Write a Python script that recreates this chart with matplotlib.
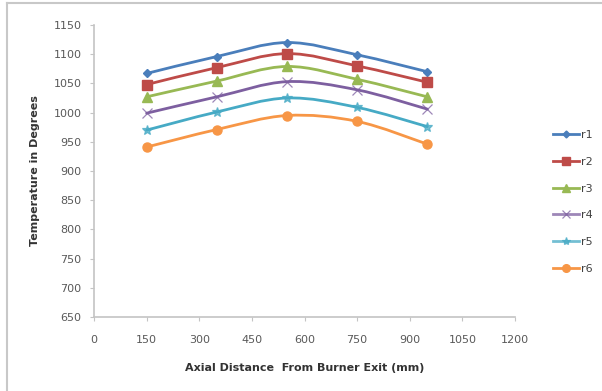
import matplotlib.pyplot as plt
from matplotlib.path import Path
from matplotlib.patches import PathPatch
from matplotlib.lines import Line2D
import numpy as np

# axial positions (mm) and temperatures for each radial station
distance = [150, 350, 550, 750, 950]
r1 = [1067, 1096, 1120, 1099, 1070]
r2 = [1048, 1077, 1101, 1080, 1052]
r3 = [1027, 1054, 1079, 1057, 1027]
r4 = [999, 1027, 1053, 1039, 1006]
r5 = [970, 1001, 1025, 1009, 976]
r6 = [941, 971, 995, 985, 946]

names = ['r1', 'r2', 'r3', 'r4', 'r5', 'r6']
series = [r1, r2, r3, r4, r5, r6]
colors = ['#4a7ebb', '#be4b48', '#98b954', '#7d5fa0', '#46aac5', '#f79646']
markers = ['D', 's', '^', 'x', '*', 'o']
msizes = [4.5, 6.5, 6.5, 6.5, 7, 6.5]


def smooth_path(x, y):
    # Catmull-Rom style bezier through the points (like Excel's smoothed line)
    pts = np.column_stack([x, y]).astype(float)
    verts = [pts[0]]
    codes = [Path.MOVETO]
    n = len(pts)
    for i in range(n - 1):
        p0 = pts[i - 1] if i > 0 else pts[i]
        p1 = pts[i]
        p2 = pts[i + 1]
        p3 = pts[i + 2] if i + 2 < n else pts[i + 1]
        c1 = p1 + (p2 - p0) / 6.0
        c2 = p2 - (p3 - p1) / 6.0
        verts += [c1, c2, p2]
        codes += [Path.CURVE4] * 3
    return Path(verts, codes)


def mstyle(m):
    return dict(mew=0.9, alpha=0.75) if m in ('x', '*') else dict(mew=1)


fig = plt.figure(figsize=(6.02, 3.91), dpi=100)
ax = fig.add_axes([94 / 602, 1 - 317 / 391, (515 - 94) / 602, (317 - 25) / 391])

for name, vals, c, m, ms in zip(names, series, colors, markers, msizes):
    ax.add_patch(PathPatch(smooth_path(distance, vals), fill=False,
                           edgecolor=c, lw=2.0, capstyle='round'))
    ax.plot(distance, vals, ls='none', marker=m, color=c, ms=ms, **mstyle(m))

ax.set_xlim(0, 1200)
ax.set_ylim(650, 1150)
ax.set_xticks(np.arange(0, 1201, 150))
ax.set_yticks(np.arange(650, 1151, 50))

for s in ['top', 'right']:
    ax.spines[s].set_visible(False)
for s in ['left', 'bottom']:
    ax.spines[s].set_color('#c4c4c4')
    ax.spines[s].set_linewidth(1.2)
ax.tick_params(colors='#c4c4c4', labelcolor='#595959', labelsize=8,
               length=3, direction='out')
ax.tick_params(axis='x', pad=10)
ax.tick_params(axis='y', pad=6)

ax.set_xlabel('Axial Distance  From Burner Exit (mm)', fontsize=8,
              fontweight='bold', color='#333333', labelpad=13)
ax.set_ylabel('Temperature in Degrees', fontsize=8, fontweight='bold',
              color='#333333', labelpad=10)

handles = [Line2D([], [], color=c, lw=2.0, marker=m, ms=ms - 1, **mstyle(m))
           for c, m, ms in zip(colors, markers, msizes)]
leg = fig.legend(handles, names, loc='center left',
                 bbox_to_anchor=(547 / 602, 1 - 202 / 391), frameon=False,
                 fontsize=8, handlelength=2.4, handletextpad=0.2,
                 labelspacing=1.5, borderpad=0)
for t in leg.get_texts():
    t.set_color('#404040')

# chart area edges
fig.add_artist(Line2D([7 / 602, 7 / 602], [0, 1 - 3 / 391],
                      transform=fig.transFigure, color='#c8c8c8', lw=1.5))
fig.add_artist(Line2D([7 / 602, 1], [1 - 3 / 391, 1 - 3 / 391],
                      transform=fig.transFigure, color='#c8c8c8', lw=1.5))

fig.savefig('out.png', dpi=100)
